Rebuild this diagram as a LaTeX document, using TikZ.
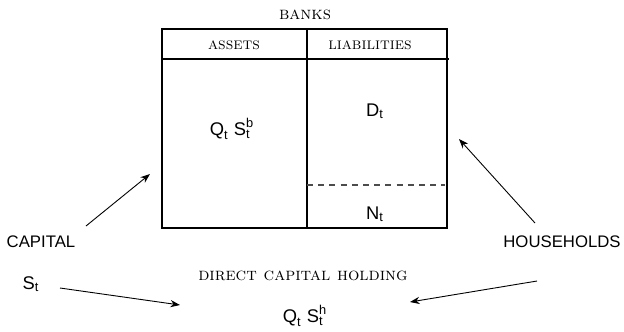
\documentclass[tikz,border=0pt]{standalone}
\usepackage{amsmath}
\usepackage{fontspec}
\usetikzlibrary{arrows.meta,positioning}
\newfontfamily\hlv{Liberation Sans}
\newcommand{\hv}[1]{\text{\hlv #1}}
\tikzset{
  frame/.style={line width=0.6pt,draw=black},
  sep/.style={line width=0.6pt,draw=black!70,dash pattern=on 3bp off 2.6bp},
  caption/.style={font=\fontsize{9}{10}\selectfont\scshape,inner sep=0pt},
  colhead/.style={font=\fontsize{8.3}{9}\selectfont\scshape,inner sep=0pt},
  sanslabel/.style={font=\fontsize{8.4}{10}\selectfont\hlv,inner sep=0pt},
  qty/.style={font=\fontsize{9.2}{10}\selectfont,inner sep=0pt},
  flow/.style={-{Stealth[length=4.8bp,width=3.6bp]},line width=0.45pt}
}
\begin{document}
\begin{tikzpicture}[x=0.5bp,y=-0.5bp]
  \path[use as bounding box] (0,0) rectangle (624,331);

  \draw[frame] (162,29) rectangle (447,228);
  \draw[frame] (162,59) -- (449,59);
  \draw[frame] (307,29) -- (307,227);
  \draw[sep] (307,185) -- (445,185);

  \node[caption] (banks) at (305,15) {banks};
  \node[colhead] (assets) at (234,45) {assets};
  \node[colhead] (liab) at (370,45) {liabilities};

  \node[qty] (bankcap) at (232,129) {$\hv{Q}_{\hv{t}}\;\hv{S}^{\hv{b}}_{\hv{t}}$};
  \node[qty] (deposits) at (375,111) {$\hv{D}_{\hv{t}}$};
  \node[qty] (networth) at (375,214) {$\hv{N}_{\hv{t}}$};

  \node[sanslabel] (capital) at (41,242) {CAPITAL};
  \node[qty] (stock) at (31,284) {$\hv{S}_{\hv{t}}$};
  \node[sanslabel] (house) at (562,242) {HOUSEHOLDS};
  \node[caption] (direct) at (303,276) {direct capital holding};
  \node[qty] (hholdcap) at (305,316) {$\hv{Q}_{\hv{t}}\;\hv{S}^{\hv{h}}_{\hv{t}}$};

  \coordinate (capout) at (86,226);
  \coordinate (capin) at (150,174);
  \coordinate (hhout) at (535,223);
  \coordinate (hhin) at (459,139);
  \coordinate (stout) at (60,288);
  \coordinate (stin) at (180,305);
  \coordinate (hdout) at (537,281);
  \coordinate (hdin) at (410,302);

  \draw[flow] (capout) -- (capin);
  \draw[flow] (hhout) -- (hhin);
  \draw[flow] (stout) -- (stin);
  \draw[flow] (hdout) -- (hdin);
\end{tikzpicture}
\end{document}
